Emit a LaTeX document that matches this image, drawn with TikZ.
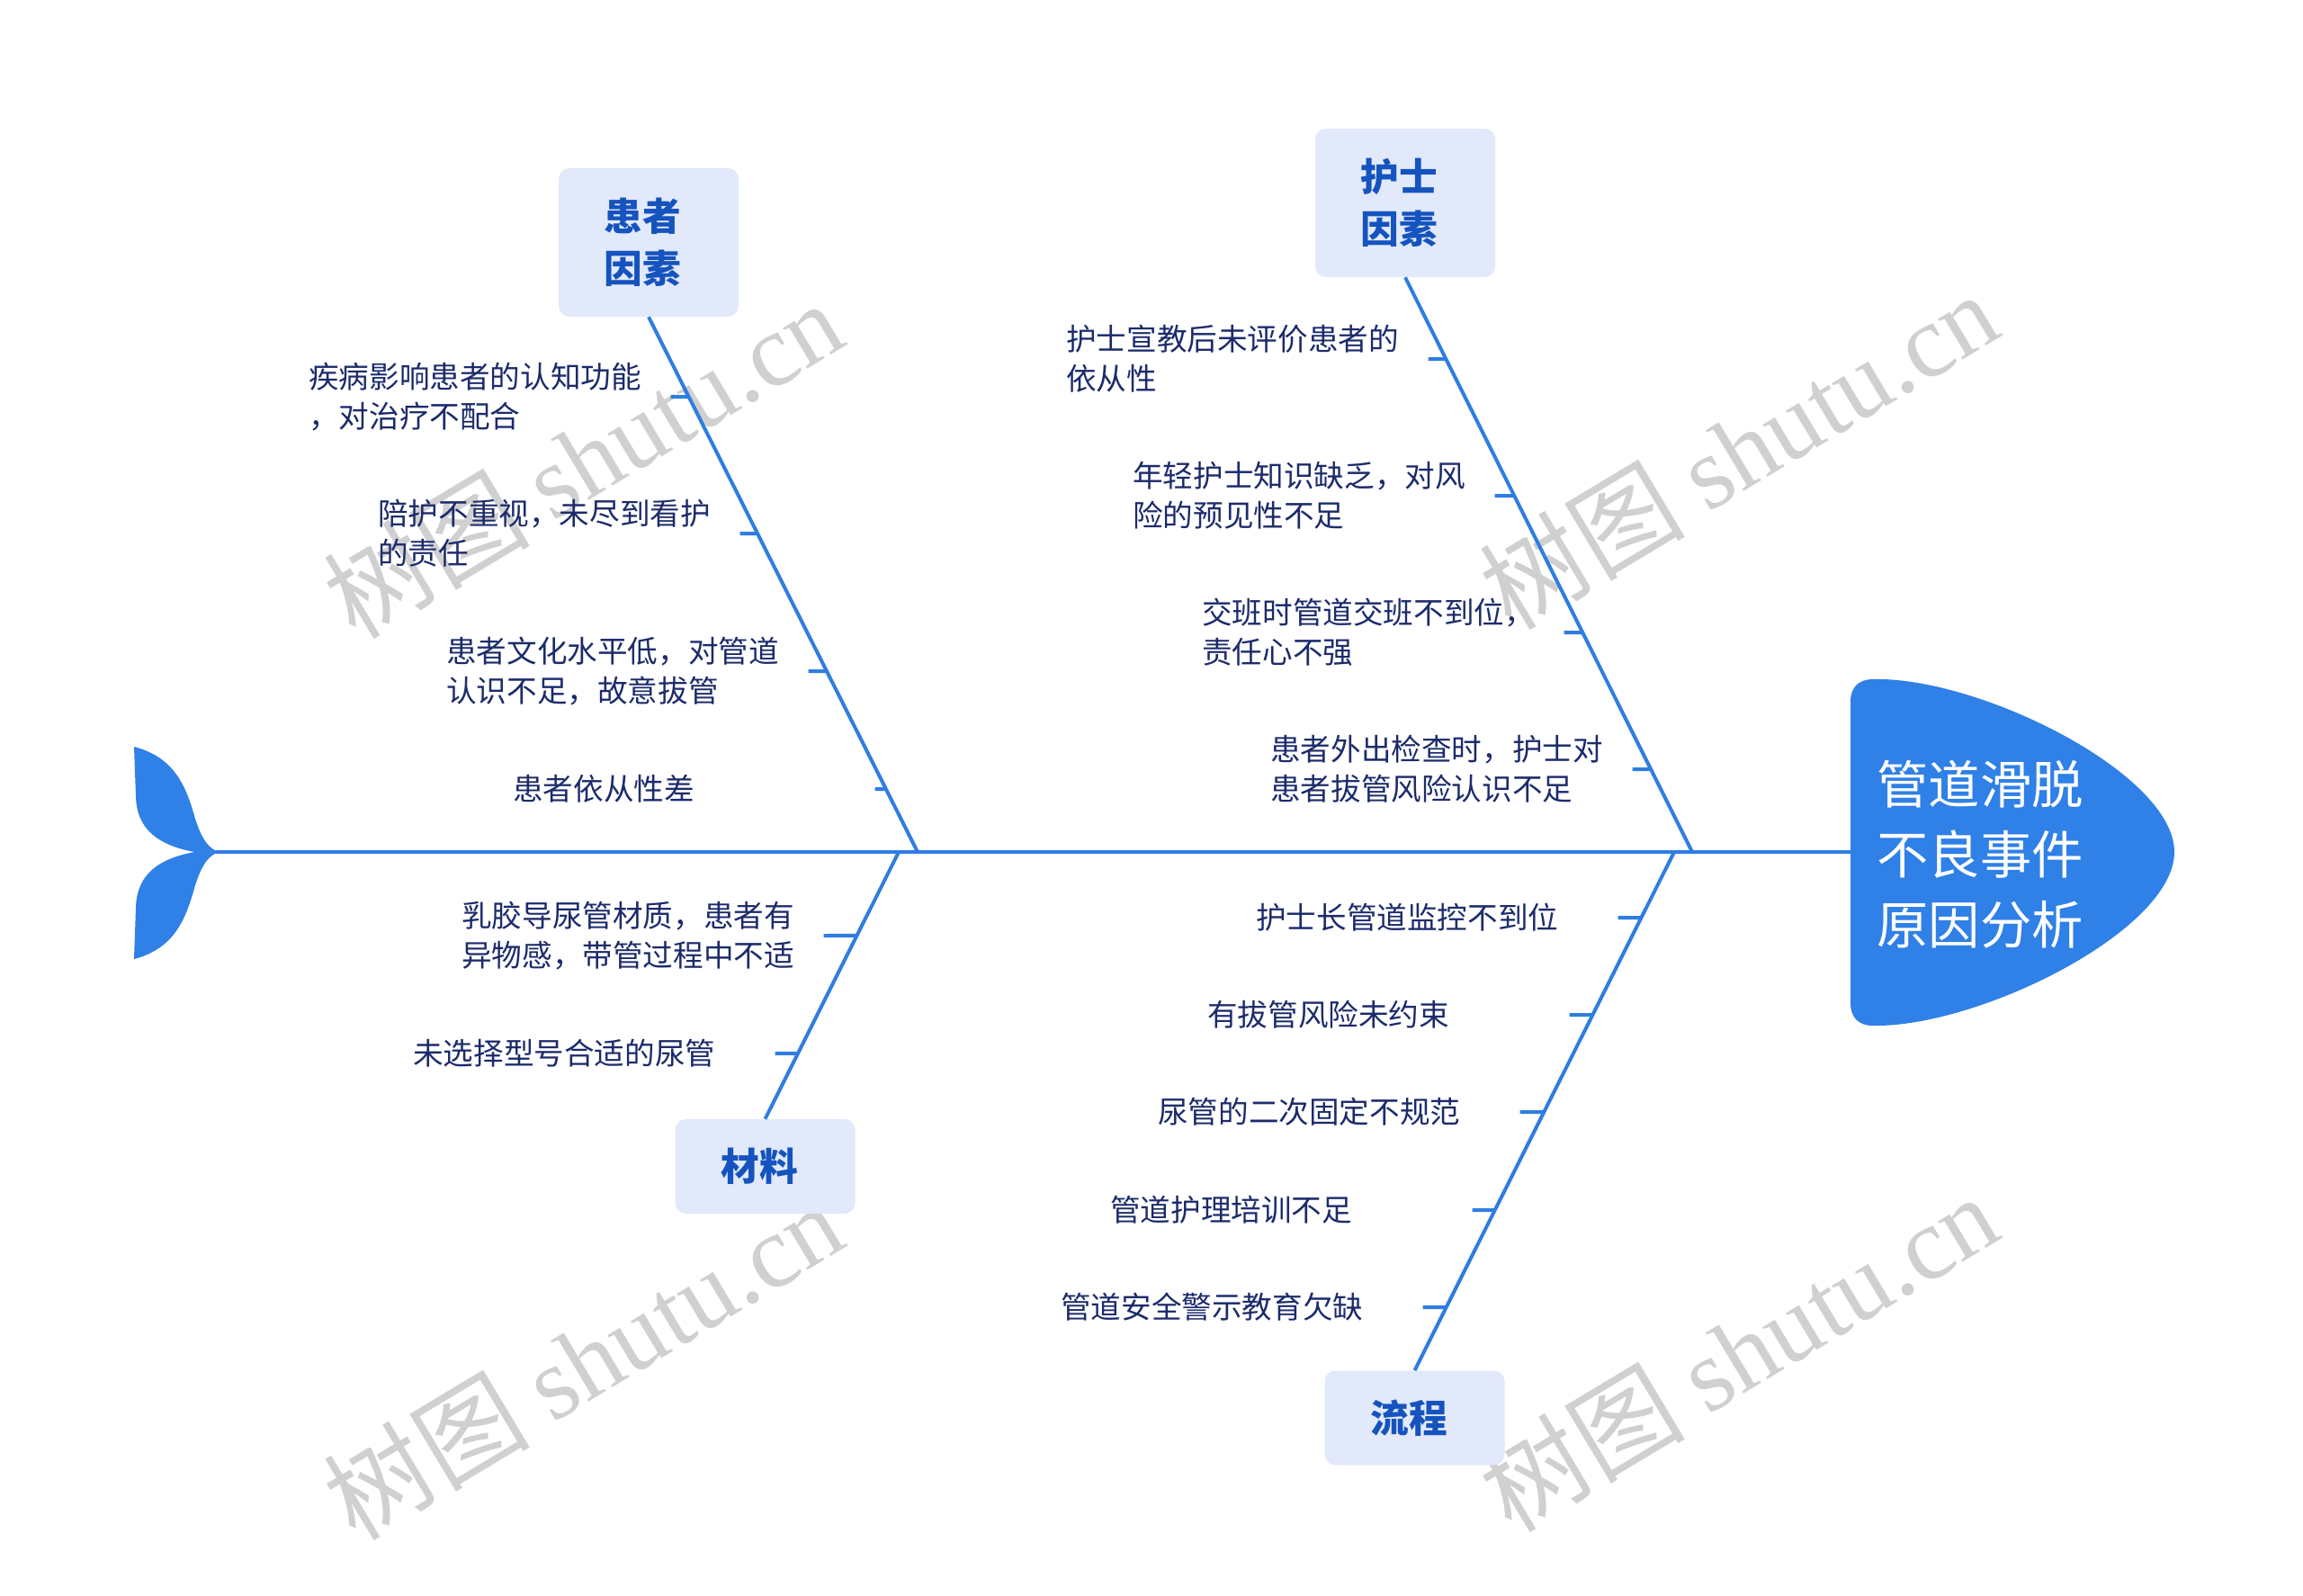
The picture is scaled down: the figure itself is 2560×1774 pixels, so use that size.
\documentclass[tikz,border=0pt]{standalone}
\usepackage{fontspec}
\setmainfont{Noto Sans CJK SC}
\newfontfamily\wmserif{Liberation Serif}
\usetikzlibrary{calc}
\definecolor{bonec}{HTML}{2F7DE1}
\definecolor{headc}{HTML}{2F80E7}
\definecolor{boxfill}{HTML}{E1E9FB}
\definecolor{boxtext}{HTML}{1553BE}
\definecolor{itemtext}{HTML}{1C2B6B}
\definecolor{wmc}{HTML}{D0D0D0}
\newcommand{\lft}{\hspace*{-9.75pt}}
\begin{document}
\begin{tikzpicture}[x=0.75pt,y=-0.75pt,
  spineline/.style={draw=bonec,line width=3.6pt},
  bone/.style={draw=bonec,line width=3pt},
  tickline/.style={draw=bonec,line width=3pt},
  catbox/.style={fill=boxfill,rounded corners=9pt,minimum width=150pt,text=boxtext,
    font=\fontsize{32}{43.5}\selectfont\bfseries,align=center,inner sep=0pt},
  catboxtwo/.style={catbox,minimum height=123.75pt},
  catboxone/.style={catbox,minimum height=78.75pt},
  item/.style={anchor=west,text width=277.5pt,align=left,inner sep=0pt,text=itemtext,
    font=\fontsize{25.2}{33}\selectfont},
  wm/.style={text=wmc,rotate=31,inner sep=0pt,font=\fontsize{86}{90}\selectfont}
]
\useasboundingbox (0,0) rectangle (2560,1774);
\fill[white] (0,0) rectangle (2560,1774);

% watermarks
\node[wm] (wm1) at (648,510) {树图 {\wmserif shutu.cn}};
\node[wm] (wm2) at (1932,500) {树图 {\wmserif shutu.cn}};
\node[wm] (wm3) at (648,1512) {树图 {\wmserif shutu.cn}};
\node[wm] (wm4) at (1932,1503) {树图 {\wmserif shutu.cn}};

% tail
\coordinate (tailJ) at (240,947);
\fill[headc] (149,830) .. controls (195,842) and (207,875) .. (217,910)
  .. controls (225,935) and (233,944) .. (244,947)
  -- (222,948) .. controls (185,942) and (152,928) .. (151,885) -- cycle;
\fill[headc] (149,1066) .. controls (195,1054) and (207,1020) .. (217,984)
  .. controls (225,959) and (233,950) .. (244,947)
  -- (222,946) .. controls (185,952) and (152,966) .. (151,1009) -- cycle;

% head
\fill[headc] (2082,755) .. controls (2200,752) and (2417,860) .. (2417,947)
  .. controls (2417,1034) and (2200,1142) .. (2082,1140)
  .. controls (2066,1140) and (2057,1131) .. (2057,1115) -- (2057,780)
  .. controls (2057,764) and (2066,755) .. (2082,755) -- cycle;
\coordinate (headL) at (2057,947);
\node[text=white,align=center,inner sep=0pt,font=\fontsize{43}{58.5}\selectfont] (headtxt) at (2201,950)
  {管道滑脱\\不良事件\\原因分析};

% spine
\draw[spineline] (tailJ) -- (headL);
\coordinate (sUL) at (1020,947);
\coordinate (sUR) at (1881,947);
\coordinate (sLL) at (999,947);
\coordinate (sLR) at (1861,947);

% category boxes
\node[catboxtwo] (bUL) at (721,269.5) {\lft 患者\\\lft 因素};
\node[catboxtwo] (bUR) at (1562,225.5) {\lft 护士\\\lft 因素};
\node[catboxone] (bLL) at (850.5,1296.5) {\lft 材料};
\node[catboxone] (bLR) at (1572.5,1576) {\lft 流程};

% bones
\draw[bone] (bUL.south) -- (sUL);
\draw[bone] (bUR.south) -- (sUR);
\draw[bone] (sLL) -- (bLL.north);
\draw[bone] (sLR) -- (bLR.north);

% upper-left items
\node[item] (u1) at (343,441) {疾病影响患者的认知功能\\，对治疗不配合};
\node[item] (u2) at (420,593) {陪护不重视，未尽到看护\\的责任};
\node[item] (u3) at (496,746) {患者文化水平低，对管道\\认识不足，故意拔管};
\node[item] (u4) at (570,877) {患者依从性差};
\coordinate (u1b) at ($(bUL.south)!0.1496!(sUL)$);
\coordinate (u2b) at ($(bUL.south)!0.4050!(sUL)$);
\coordinate (u3b) at ($(bUL.south)!0.6622!(sUL)$);
\coordinate (u4b) at ($(bUL.south)!0.8824!(sUL)$);
\draw[tickline] ($(u1.east)+(32,0)$) -- (u1b);
\draw[tickline] ($(u2.east)+(32,0)$) -- (u2b);
\draw[tickline] ($(u3.east)+(32,0)$) -- (u3b);
\draw[tickline] ($(u4.east)+(32,0)$) -- (u4b);

% upper-right items
\node[item] (r1) at (1185,399) {护士宣教后未评价患者的\\依从性};
\node[item] (r2) at (1259,551) {年轻护士知识缺乏，对风\\险的预见性不足};
\node[item] (r3) at (1336,703) {交班时管道交班不到位，\\责任心不强};
\node[item] (r4) at (1412,855) {患者外出检查时，护士对\\患者拔管风险认识不足};
\coordinate (r1b) at ($(bUR.south)!0.1424!(sUR)$);
\coordinate (r2b) at ($(bUR.south)!0.3803!(sUR)$);
\coordinate (r3b) at ($(bUR.south)!0.6182!(sUR)$);
\coordinate (r4b) at ($(bUR.south)!0.8560!(sUR)$);
\draw[tickline] ($(r1.east)+(32,0)$) -- (r1b);
\draw[tickline] ($(r2.east)+(32,0)$) -- (r2b);
\draw[tickline] ($(r3.east)+(32,0)$) -- (r3b);
\draw[tickline] ($(r4.east)+(32,0)$) -- (r4b);

% lower-left items
\node[item] (l1) at (513,1040) {乳胶导尿管材质，患者有\\异物感，带管过程中不适};
\node[item] (l2) at (459,1171) {未选择型号合适的尿管};
\coordinate (l1b) at ($(sLL)!0.3131!(bLL.north)$);
\coordinate (l2b) at ($(sLL)!0.7542!(bLL.north)$);
\draw[tickline] ($(l1.east)+(32,0)$) -- (l1b);
\draw[tickline] ($(l2.east)+(32,0)$) -- (l2b);

% lower-right items
\node[item] (d1) at (1396,1020) {护士长管道监控不到位};
\node[item] (d2) at (1342,1128) {有拔管风险未约束};
\node[item] (d3) at (1287,1236) {尿管的二次固定不规范};
\node[item] (d4) at (1234,1345) {管道护理培训不足};
\node[item] (d5) at (1179,1453) {管道安全警示教育欠缺};
\coordinate (d1b) at ($(sLR)!0.1267!(bLR.north)$);
\coordinate (d2b) at ($(sLR)!0.3142!(bLR.north)$);
\coordinate (d3b) at ($(sLR)!0.5017!(bLR.north)$);
\coordinate (d4b) at ($(sLR)!0.6910!(bLR.north)$);
\coordinate (d5b) at ($(sLR)!0.8785!(bLR.north)$);
\draw[tickline] ($(d1.east)+(32,0)$) -- (d1b);
\draw[tickline] ($(d2.east)+(32,0)$) -- (d2b);
\draw[tickline] ($(d3.east)+(32,0)$) -- (d3b);
\draw[tickline] ($(d4.east)+(32,0)$) -- (d4b);
\draw[tickline] ($(d5.east)+(32,0)$) -- (d5b);
\end{tikzpicture}
\end{document}
